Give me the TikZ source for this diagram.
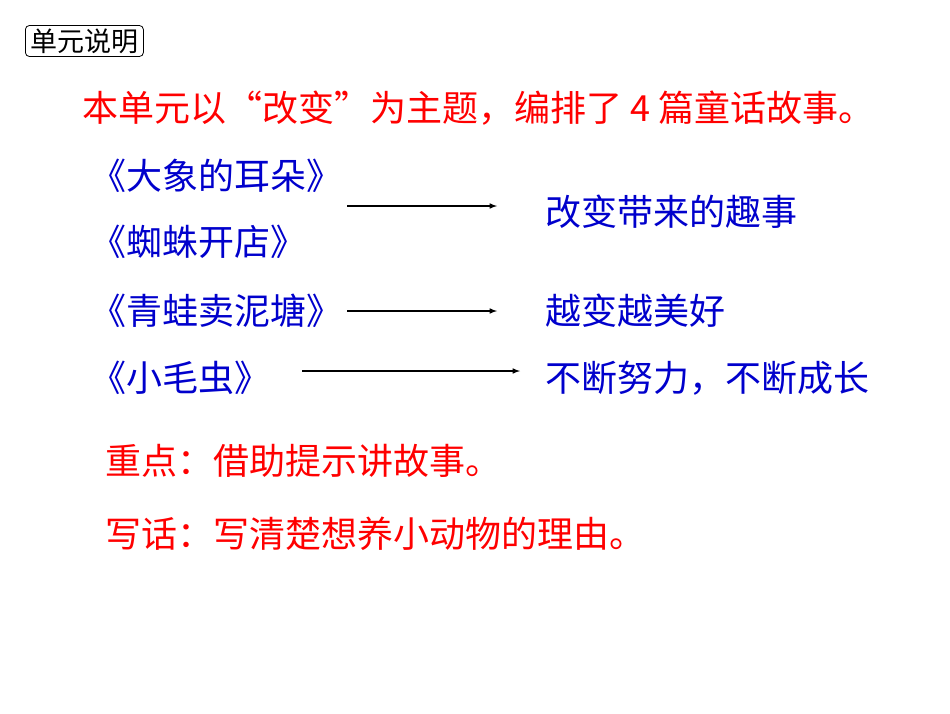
\documentclass[tikz,border=0pt]{standalone}
\usepackage{fontspec}
\setmainfont{Noto Sans CJK SC}
\begin{document}
\begin{tikzpicture}[x=1pt,y=-1pt,
  red/.style={anchor=west,text=red,font=\fontsize{36}{36}\selectfont,inner sep=0},
  blue/.style={anchor=west,text=blue!80!black,font=\fontsize{36}{36}\selectfont,inner sep=0},
  arr/.style={-latex,line width=1.5pt}]
\useasboundingbox (0,0) rectangle (950,713);
\node[draw,rounded corners=4pt,line width=0.8pt,anchor=west,font=\fontsize{27}{27}\selectfont,inner xsep=5pt,inner ysep=3pt] (unit) at (25,41) {单元说明};
\node[red] (title) at (82,108) {本单元以“改变”为主题，编排了 4 篇童话故事。};
\node[blue] (b1) at (90,176) {《大象的耳朵》};
\node[blue] (b2) at (90,242) {《蜘蛛开店》};
\node[blue] (b3) at (90,311) {《青蛙卖泥塘》};
\node[blue] (b4) at (90,378) {《小毛虫》};
\node[blue] (r1) at (545,212) {改变带来的趣事};
\node[blue] (r2) at (545,311) {越变越美好};
\node[blue] (r3) at (545,378) {不断努力，不断成长};
\node[red] (k1) at (105,461) {重点：借助提示讲故事。};
\node[red] (k2) at (105,534) {写话：写清楚想养小动物的理由。};
\coordinate (a1s) at (347,206); \coordinate (a1e) at (497,206);
\coordinate (a2s) at (347,311); \coordinate (a2e) at (497,311);
\coordinate (a3s) at (302,371); \coordinate (a3e) at (520,371);
\draw[arr] (a1s) -- (a1e);
\draw[arr] (a2s) -- (a2e);
\draw[arr] (a3s) -- (a3e);
\end{tikzpicture}
\end{document}
